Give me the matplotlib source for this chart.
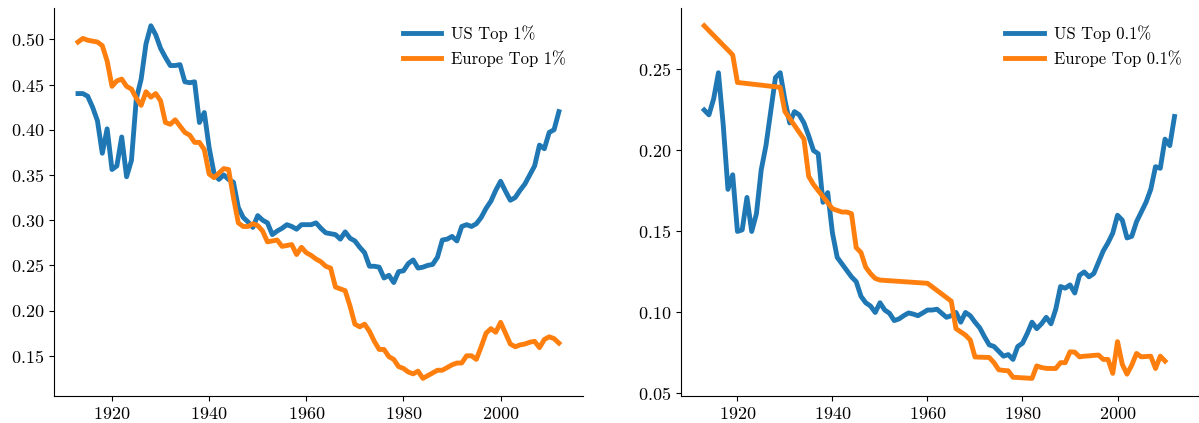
import numpy as np
import matplotlib
matplotlib.use("Agg")
import matplotlib.pyplot as plt

plt.rcParams["font.family"] = "serif"
plt.rcParams["font.serif"] = ["cmr10"]
plt.rcParams["mathtext.fontset"] = "cm"
plt.rcParams["axes.formatter.use_mathtext"] = True

# annual years for the US series and the Europe top 1% series
years = np.arange(1913, 2013)

us_top1 = [
    0.440, 0.440, 0.437, 0.425, 0.410, 0.374, 0.401, 0.356, 0.360, 0.392,
    0.348, 0.366, 0.434, 0.456, 0.495, 0.515, 0.505, 0.490, 0.480, 0.471,
    0.471, 0.472, 0.453, 0.452, 0.453, 0.408, 0.419, 0.380, 0.352, 0.345,
    0.350, 0.345, 0.342, 0.314, 0.303, 0.298, 0.292, 0.305, 0.300, 0.297,
    0.284, 0.288, 0.291, 0.295, 0.293, 0.290, 0.295, 0.295, 0.295, 0.297,
    0.291, 0.286, 0.285, 0.284, 0.279, 0.287, 0.280, 0.277, 0.270, 0.264,
    0.249, 0.249, 0.248, 0.236, 0.239, 0.231, 0.243, 0.244, 0.252, 0.256,
    0.247, 0.248, 0.250, 0.251, 0.259, 0.278, 0.279, 0.282, 0.277, 0.293,
    0.295, 0.293, 0.296, 0.303, 0.313, 0.321, 0.333, 0.343, 0.332, 0.322,
    0.325, 0.333, 0.340, 0.350, 0.360, 0.383, 0.379, 0.397, 0.400, 0.420,
]

europe_top1 = [
    0.497, 0.501, 0.499, 0.498, 0.497, 0.493, 0.476, 0.448, 0.454, 0.456,
    0.448, 0.445, 0.435, 0.427, 0.442, 0.436, 0.440, 0.432, 0.408, 0.406,
    0.411, 0.404, 0.397, 0.394, 0.386, 0.386, 0.378, 0.351, 0.347, 0.352,
    0.357, 0.356, 0.325, 0.297, 0.293, 0.293, 0.296, 0.294, 0.288, 0.276,
    0.277, 0.278, 0.271, 0.272, 0.273, 0.262, 0.270, 0.264, 0.261, 0.257,
    0.254, 0.249, 0.247, 0.226, 0.224, 0.222, 0.205, 0.185, 0.182, 0.185,
    0.177, 0.166, 0.157, 0.157, 0.149, 0.146, 0.138, 0.136, 0.132, 0.130,
    0.133, 0.125, 0.128, 0.131, 0.134, 0.134, 0.137, 0.140, 0.142, 0.142,
    0.150, 0.150, 0.146, 0.160, 0.175, 0.180, 0.176, 0.187, 0.175, 0.163,
    0.160, 0.162, 0.163, 0.165, 0.166, 0.159, 0.168, 0.171, 0.169, 0.164,
]

us_top01 = [
    0.225, 0.222, 0.232, 0.248, 0.216, 0.176, 0.185, 0.150, 0.151, 0.171,
    0.150, 0.161, 0.188, 0.203, 0.224, 0.245, 0.248, 0.231, 0.217, 0.224,
    0.222, 0.217, 0.209, 0.200, 0.198, 0.168, 0.174, 0.149, 0.134, 0.130,
    0.126, 0.122, 0.119, 0.110, 0.106, 0.104, 0.100, 0.106, 0.1015, 0.0995,
    0.095, 0.096, 0.098, 0.0997, 0.099, 0.098, 0.0997, 0.1015, 0.1015, 0.102,
    0.0995, 0.097, 0.098, 0.100, 0.094, 0.100, 0.098, 0.094, 0.0905, 0.085,
    0.080, 0.079, 0.076, 0.073, 0.074, 0.071, 0.079, 0.081, 0.087, 0.094,
    0.090, 0.093, 0.097, 0.093, 0.102, 0.116, 0.115, 0.117, 0.112, 0.123,
    0.125, 0.122, 0.124, 0.131, 0.138, 0.143, 0.149, 0.160, 0.157, 0.146,
    0.147, 0.156, 0.162, 0.168, 0.176, 0.190, 0.189, 0.207, 0.203, 0.221,
]

# Europe top 0.1% has missing years
europe_years01 = [
    1913, 1919, 1920, 1929, 1930, 1934, 1935, 1936, 1940, 1941,
    1942, 1943, 1944, 1945, 1946, 1947, 1948, 1949, 1950, 1960,
    1965, 1966, 1967, 1968, 1969, 1970, 1973, 1974, 1975, 1976,
    1977, 1978, 1982, 1983, 1984, 1985, 1986, 1987, 1988, 1989,
    1990, 1991, 1992, 1993, 1994, 1995, 1996, 1997, 1998, 1999,
    2000, 2001, 2002, 2003, 2004, 2005, 2006, 2007, 2008, 2009,
    2010,
]
europe_top01 = [
    0.277, 0.259, 0.242, 0.239, 0.224, 0.207, 0.184, 0.179, 0.164, 0.163,
    0.162, 0.162, 0.161, 0.140, 0.137, 0.128, 0.124, 0.121, 0.120, 0.118,
    0.107, 0.090, 0.088, 0.086, 0.083, 0.0725, 0.0722, 0.069, 0.0646, 0.0642,
    0.064, 0.060, 0.0593, 0.067, 0.066, 0.0655, 0.0654, 0.0654, 0.069, 0.069,
    0.0757, 0.0755, 0.0726, 0.073, 0.0732, 0.0735, 0.0737, 0.071, 0.071, 0.0624,
    0.082, 0.068, 0.0619, 0.0675, 0.0747, 0.0726, 0.0728, 0.073, 0.0654, 0.073,
    0.070,
]

fig = plt.figure(figsize=(11.99, 4.23), dpi=100)
ax1 = fig.add_axes([0.045, 0.0638, 0.4412, 0.917])
ax2 = fig.add_axes([0.5677, 0.0638, 0.4315, 0.917])

lw = 3.5
ax1.plot(years, us_top1, color="#1f77b4", lw=lw, label="US Top 1%")
ax1.plot(years, europe_top1, color="#ff7f0e", lw=lw, label="Europe Top 1%")
ax2.plot(years, us_top01, color="#1f77b4", lw=lw, label="US Top 0.1%")
ax2.plot(europe_years01, europe_top01, color="#ff7f0e", lw=lw, label="Europe Top 0.1%")

for ax in (ax1, ax2):
    ax.spines["top"].set_visible(False)
    ax.spines["right"].set_visible(False)
    ax.set_xticks([1920, 1940, 1960, 1980, 2000])
    ax.tick_params(labelsize=13)
    ax.legend(loc="upper right", frameon=False, fontsize=12,
              handlelength=2.3, handletextpad=0.6, labelspacing=0.5,
              borderaxespad=0.6)

ax1.set_yticks(np.arange(0.15, 0.51, 0.05))
ax2.set_yticks(np.arange(0.05, 0.26, 0.05))

fig.savefig("out.png", dpi=100)
